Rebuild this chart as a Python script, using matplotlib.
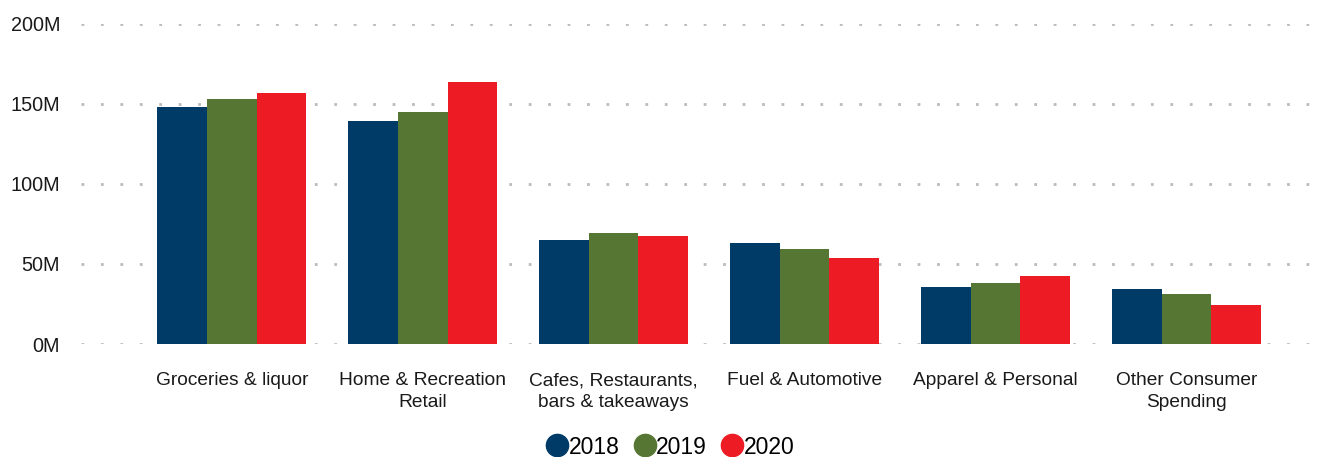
import matplotlib
matplotlib.use("Agg")
import matplotlib.pyplot as plt
from matplotlib.lines import Line2D
import numpy as np

plt.rcParams['font.family'] = ['Liberation Sans', 'DejaVu Sans']

categories = ["Groceries & liquor", "Home & Recreation\nRetail", "Cafes, Restaurants,\nbars & takeaways",
              "Fuel & Automotive", "Apparel & Personal", "Other Consumer\nSpending"]
years = ["2018", "2019", "2020"]
v2018 = [148.1, 139.4, 65.0, 63.1, 35.6, 34.4]
v2019 = [153.1, 145.0, 69.4, 59.4, 38.1, 31.2]
v2020 = [156.9, 163.7, 67.5, 53.7, 42.5, 24.4]
colors = ["#003B68", "#557733", "#ED1C24"]
yticks = [0, 50, 100, 150, 200]
ytick_labels = ["0M", "50M", "100M", "150M", "200M"]

fig = plt.figure(figsize=(13.23, 4.57), dpi=100)
ax = fig.add_axes([81/1323, 113/457, (1320-81)/1323, (344-23.7)/457])

x = np.arange(len(categories))
w = 0.26
for i, (vals, c) in enumerate(zip([v2018, v2019, v2020], colors)):
    ax.bar(x + (i-1)*w, vals, width=w, color=c, zorder=3, linewidth=0)

ax.set_xlim(-0.79, 5.70)
ax.set_ylim(0, 200)
ax.set_yticks(yticks)
ax.set_yticklabels(ytick_labels, fontsize=14.3, color="#1a1a1a")
ax.set_xticks(x)
ax.set_xticklabels(categories, fontsize=13.8, color="#1a1a1a", linespacing=1.35)
ax.tick_params(axis='both', length=0)
ax.tick_params(axis='y', pad=15)
ax.tick_params(axis='x', pad=20.5)
for s in ax.spines.values():
    s.set_visible(False)
for yv in yticks:
    ax.axhline(yv, color="#BBBBBB", linestyle=(0, (1, 6)), linewidth=2, zorder=1)

handles = [Line2D([], [], marker='o', linestyle='none', markersize=16, color=c) for c in colors]
fig.legend(handles, years, loc='center', bbox_to_anchor=(670/1323, 1-447/457), ncol=3,
           frameon=False, fontsize=16.5, handletextpad=0.0, columnspacing=0.6, handlelength=1.0,
           borderaxespad=0)

fig.savefig("out.png", dpi=100)
